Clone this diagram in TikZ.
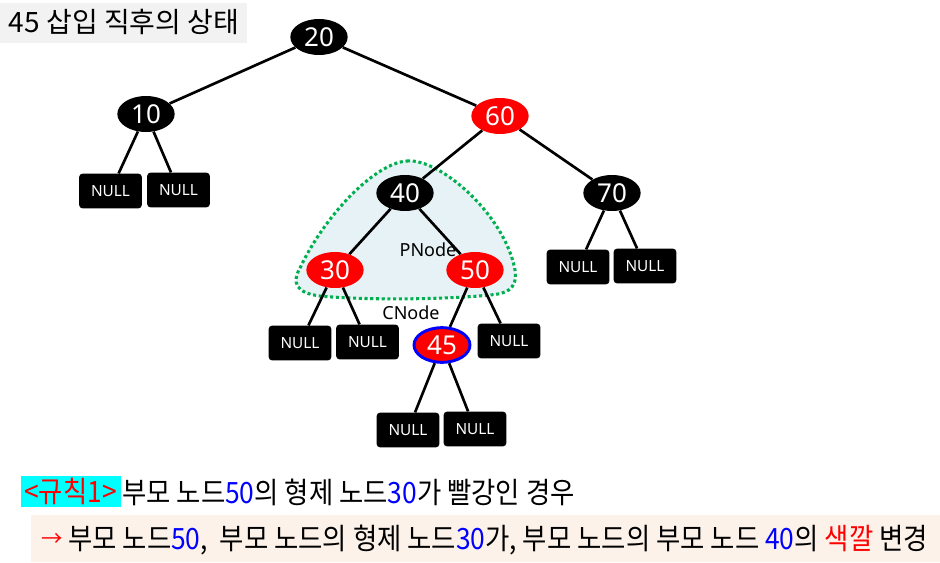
\documentclass[tikz,border=0pt]{standalone}
\usepackage{fontspec}
\setmainfont{Noto Sans}
\newfontfamily\kr{Noto Sans CJK KR}
\usetikzlibrary{shapes.geometric}
\definecolor{tribg}{HTML}{E6F2F5}
\definecolor{dotgreen}{HTML}{00B050}
\definecolor{titlebg}{HTML}{F2F2F2}
\definecolor{notebg}{HTML}{FDF2EA}
\definecolor{rulecyan}{HTML}{00FFFF}
\begin{document}
\begin{tikzpicture}[x=0.75pt,y=-0.75pt,
  bn/.style={ellipse, fill=black, text=white, minimum width=43pt, minimum height=27pt, inner sep=0pt, font=\fontsize{19.5}{19.5}\selectfont},
  rn/.style={bn, fill=red},
  nullbox/.style={rectangle, rounded corners=2.5pt, fill=black, text=white, minimum width=47pt, minimum height=26pt, inner sep=0pt, font=\fontsize{11.5}{11.5}\selectfont},
  edge/.style={line width=2pt},
  lbl/.style={inner sep=0pt, font=\fontsize{13.5}{13.5}\selectfont},
  kt/.style={inner sep=0pt, anchor=west, font=\kr\fontsize{22}{22}\selectfont}]
\useasboundingbox (0,0) rectangle (940,563);

% title
\node[fill=titlebg, minimum width=185pt, minimum height=30pt, inner sep=0pt] (titlebox) at (123.5,23) {};
\node[inner sep=0pt, font=\kr\fontsize{21}{21}\selectfont] (title) at (124,22) {45 삽입 직후의 상태};

% highlighted region
\draw[fill=tribg, draw=dotgreen, dotted, line width=2.3pt]
  (407,161) .. controls (440,158) and (505,215) .. (515,270)
  .. controls (518,290) and (505,294) .. (490,295)
  .. controls (440,300) and (360,300) .. (320,296)
  .. controls (295,293) and (292,282) .. (300,268)
  .. controls (325,215) and (375,163) .. (407,161) -- cycle;

% nodes
\node[bn] (n20) at (319,37) {20};
\node[bn] (n10) at (146,114) {10};
\node[rn] (n60) at (500,116) {60};
\node[bn] (n40) at (405,193) {40};
\node[bn] (n70) at (612,193) {70};
\node[rn] (n30) at (335,270) {30};
\node[rn] (n50) at (475,270) {50};
\node[rn, draw=blue, line width=2.2pt, minimum width=42pt, minimum height=26pt] (n45) at (442,345) {45};

\node[nullbox] (a1) at (110.5,191) {NULL};
\node[nullbox] (a2) at (178.5,190) {NULL};
\node[nullbox] (b1) at (578,267) {NULL};
\node[nullbox] (b2) at (645,266) {NULL};
\node[nullbox] (c1) at (300,343) {NULL};
\node[nullbox] (c2) at (367.5,342) {NULL};
\node[nullbox] (d1) at (509,341) {NULL};
\node[nullbox] (e1) at (408,430) {NULL};
\node[nullbox] (e2) at (475,429) {NULL};

% edges
\draw[edge] (n20) -- (n10);
\draw[edge] (n20) -- (n60);
\draw[edge] (n10) -- (a1);
\draw[edge] (n10) -- (a2);
\draw[edge] (n60) -- (n40);
\draw[edge] (n60) -- (n70);
\draw[edge] (n70) -- (b1);
\draw[edge] (n70) -- (b2);
\draw[edge] (n40) -- (n30);
\draw[edge] (n40) -- (n50);
\draw[edge] (n30) -- (c1);
\draw[edge] (n30) -- (c2);
\draw[edge] (n50) -- (n45);
\draw[edge] (n50) -- (d1);
\draw[edge] (n45) -- (e1);
\draw[edge] (n45) -- (e2);

% labels
\node[lbl] (pn) at (428,250) {PNode};
\node[lbl] (cn) at (411,313) {CNode};

% rule line
\node[fill=rulecyan, minimum width=75pt, minimum height=23pt, inner sep=0pt, text=red, font=\kr\fontsize{22}{22}\selectfont] (rule) at (70.5,491.5) {\scalebox{0.9}[1]{<규칙1>}};
\node[kt] (line1) at (122,492) {\scalebox{0.9}[1]{부모 노드\textcolor{blue}{50}의 형제 노드\textcolor{blue}{30}가 빨강인 경우}};

% note line
\node[fill=notebg, minimum width=682pt, minimum height=35pt, inner sep=0pt] (notebox) at (485.5,538.5) {};
\node[inner sep=0pt, text=red, font=\kr\fontsize{16}{16}\selectfont] (arrow) at (52,539.5) {→};
\node[kt] (line2) at (68,540) {\scalebox{0.9}[1]{부모 노드\textcolor{blue}{50},\ \ 부모 노드의 형제 노드\textcolor{blue}{30}가, 부모 노드의 부모 노드 \textcolor{blue}{40}의 \textcolor{red}{색깔} 변경}};
\end{tikzpicture}
\end{document}
